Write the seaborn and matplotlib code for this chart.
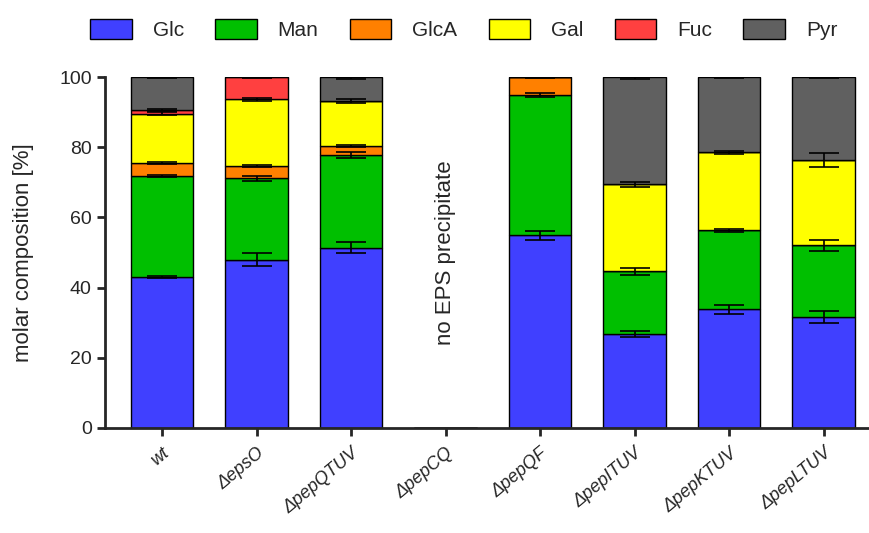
import numpy as np
import pandas as pd
import matplotlib
matplotlib.use('Agg')
import matplotlib.pyplot as plt
from matplotlib.patches import Patch
import seaborn as sns

# ── Data (molar composition, %) ───────────────────────────
strains = ['wt', 'ΔepsO', 'ΔpepQTUV', 'ΔpepCQ', 'ΔpepQF',
           'ΔpepITUV', 'ΔpepKTUV', 'ΔpepLTUV']
sugars = ['Glc', 'Man', 'GlcA', 'Gal', 'Fuc', 'Pyr']

glc = [42.9, 48.0, 51.4, 0, 54.9, 26.7, 33.8, 31.6]
man = [28.9, 23.1, 26.3, 0, 39.9, 17.9, 22.5, 20.4]
glca = [3.8, 3.5, 2.6, 0, 5.2, 0, 0, 0]
gal = [14.0, 19.0, 12.9, 0, 0, 24.8, 22.2, 24.4]
fuc = [1.0, 6.4, 0, 0, 0, 0, 0, 0]
pyr = [9.4, 0, 6.8, 0, 0, 30.6, 21.5, 23.6]

glc_err = [0.3, 1.8, 1.5, 0, 1.3, 0.8, 1.3, 1.8]
man_err = [0.4, 0.6, 0.9, 0, 0.6, 0.9, 0.4, 1.5]
glca_err = [0.3, 0.3, 0.3, 0, 0.3, 0, 0, 0]
gal_err = [0.4, 0.3, 0.6, 0, 0, 0.7, 0.5, 2.0]
fuc_err = [0.4, 0.3, 0, 0, 0, 0, 0, 0]
pyr_err = [0.3, 0, 0.6, 0, 0, 0.6, 0.3, 0.3]

colors = ['#4040FF', '#00BF00', '#FF8000', '#FFFF00', '#FF4040', '#606060']

values = [glc, man, glca, gal, fuc, pyr]
errors = [glc_err, man_err, glca_err, gal_err, fuc_err, pyr_err]

# ── Style ─────────────────────────────────────────────────
sns.set_style('ticks')
plt.rcParams['font.family'] = ['Liberation Sans', 'DejaVu Sans']

fig = plt.figure(figsize=(8.7, 5.33), dpi=100)
ax = fig.add_axes([0.1207, 0.197, 0.877, 0.6585])

# ── Stacked bars ──────────────────────────────────────────
bottom = np.zeros(len(strains))
xpos = np.arange(len(strains))
for name, vals, errs, col in zip(sugars, values, errors, colors):
    vals = np.array(vals, dtype=float)
    errs = np.array(errs, dtype=float)
    sns.barplot(x=strains, y=vals, order=strains, bottom=bottom,
                color=col, saturation=1, width=0.66,
                edgecolor='black', linewidth=1, ax=ax, zorder=2)
    tops = bottom + vals
    mask = vals > 0
    ax.errorbar(xpos[mask], tops[mask], yerr=errs[mask], fmt='none',
                ecolor='black', elinewidth=1.2, capsize=10.5,
                capthick=1.2, zorder=3)
    bottom = tops

ax.text(3, 50, 'no EPS precipitate', rotation=90, ha='center',
        va='center', fontsize=16)

# ── Axes ──────────────────────────────────────────────────
ax.set_ylim(0, 100)
ax.set_xlim(-0.603, 7.47)
ax.set_yticks([0, 20, 40, 60, 80, 100])
ax.set_ylabel('molar composition [%]', fontsize=16, labelpad=18)
ax.set_xlabel('')
ax.tick_params(axis='y', labelsize=14, width=2, length=6)
ax.tick_params(axis='x', width=2, length=6, pad=6)
ax.set_xticks(xpos)
ax.set_xticklabels(strains, rotation=40, ha='right',
                   rotation_mode='anchor', fontstyle='italic', fontsize=13)
for s in ['left', 'bottom']:
    ax.spines[s].set_linewidth(2)
sns.despine(ax=ax)

handles = [Patch(facecolor=c, edgecolor='black', linewidth=1, label=s)
           for s, c in zip(sugars, colors)]
fig.legend(handles=handles, loc='upper center', ncol=6, frameon=False,
           bbox_to_anchor=(0.533, 1.0), fontsize=15, handlelength=2.0,
           handleheight=1.1, columnspacing=1.5, handletextpad=1.0)

plt.savefig('out.png', dpi=100)
plt.close()
